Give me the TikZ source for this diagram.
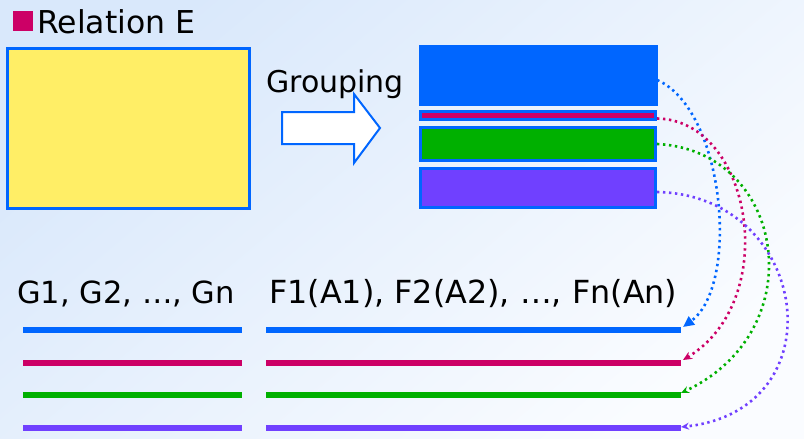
\documentclass[tikz,border=0pt]{standalone}
\usepackage{fontspec}
\setmainfont{DejaVu Sans}
\usetikzlibrary{arrows.meta,calc}
\definecolor{cblue}{HTML}{0066FF}
\definecolor{cmag}{HTML}{CC0066}
\definecolor{cgreen}{HTML}{00B000}
\definecolor{cpurple}{HTML}{7040FF}
\definecolor{cyellow}{HTML}{FFEE66}
\definecolor{bgA}{HTML}{D9E8FB}
\definecolor{bgB}{HTML}{FAFCFF}
\tikzset{
  lbl/.style={anchor=base west, inner sep=0pt, font=\fontsize{30}{34}\selectfont},
  bar/.style={draw=cblue, line width=3pt, inner sep=0pt, minimum width=235pt},
  hline/.style={line width=6pt},
  dotconn/.style={line width=2.6pt, dash pattern=on 2.4pt off 3.6pt},
}
\begin{document}
\begin{tikzpicture}[x=1pt,y=-1pt]
\useasboundingbox (0,0) rectangle (804,439);
\shade[top color=bgA, bottom color=bgB, shading angle=40] (0,0) rectangle (804,439);
% title
\node[fill=cmag, minimum size=20pt, inner sep=0pt, anchor=north west] (sq) at (13,11) {};
\node[lbl, font=\fontsize{31.5}{34}\selectfont] (rel) at (37,33) {Relation E};
% relation box
\node[draw=cblue, fill=cyellow, line width=3pt, inner sep=0pt, minimum width=242pt, minimum height=160pt] (E) at (128.5,128.5) {};
% grouping
\node[lbl] (grp) at (266,92) {Grouping};
\draw[cblue, fill=white, line width=2pt, line join=miter]
  (282,112) -- (354,112) -- (354,94) -- (380,128) -- (354,163) -- (354,144) -- (282,144) -- cycle;
% groups
\node[fill=cblue, draw=cblue, inner sep=0pt, minimum width=238pt, minimum height=60pt] (b1) at (538,75) {};
\node[bar, fill=cmag, minimum height=8pt] (b2) at (538,115.5) {};
\node[bar, fill=cgreen, minimum height=33pt] (b3) at (538,144) {};
\node[bar, fill=cpurple, minimum height=39pt] (b4) at (538,188) {};
% headings
\node[lbl, font=\fontsize{30.5}{34}\selectfont] (gh) at (17,303) {G1, G2, …, Gn};
\node[lbl, font=\fontsize{31.8}{34}\selectfont] (fh) at (269,303) {F1(A1), F2(A2), …, Fn(An)};
% lines
\coordinate (l1a) at (23,330); \coordinate (l1b) at (242,330);
\coordinate (r1a) at (266,330); \coordinate (r1b) at (681,330);
\coordinate (l2a) at (23,363); \coordinate (l2b) at (242,363);
\coordinate (r2a) at (266,363); \coordinate (r2b) at (681,363);
\coordinate (l3a) at (23,395); \coordinate (l3b) at (242,395);
\coordinate (r3a) at (266,395); \coordinate (r3b) at (681,395);
\coordinate (l4a) at (23,428); \coordinate (l4b) at (242,428);
\coordinate (r4a) at (266,428); \coordinate (r4b) at (681,428);
\draw[hline, cblue] (l1a) -- (l1b); \draw[hline, cblue] (r1a) -- (r1b);
\draw[hline, cmag] (l2a) -- (l2b); \draw[hline, cmag] (r2a) -- (r2b);
\draw[hline, cgreen] (l3a) -- (l3b); \draw[hline, cgreen] (r3a) -- (r3b);
\draw[hline, cpurple] (l4a) -- (l4b); \draw[hline, cpurple] (r4a) -- (r4b);
% dotted connectors
\draw[dotconn, cblue, -{Triangle[length=11pt,width=10pt]}] ([yshift=-5pt]b1.east) .. controls (725,110) and (740,285) .. ($(r1b)+(2,-3)$);
\draw[dotconn, cmag, -{Stealth[length=9pt,width=8pt]}] ([yshift=-3pt]b2.east) .. controls (752,120) and (782,300) .. ($(r2b)+(2,-3)$);
\draw[dotconn, cgreen, -{Stealth[length=8pt,width=7pt]}] (b3.east) .. controls (785,150) and (815,330) .. ($(r3b)+(0,-2)$);
\draw[dotconn, cpurple, -{Stealth[length=8pt,width=7pt]}] ([yshift=-4pt]b4.east) .. controls (810,195) and (840,410) .. ($(r4b)+(0,-1)$);
\end{tikzpicture}
\end{document}
